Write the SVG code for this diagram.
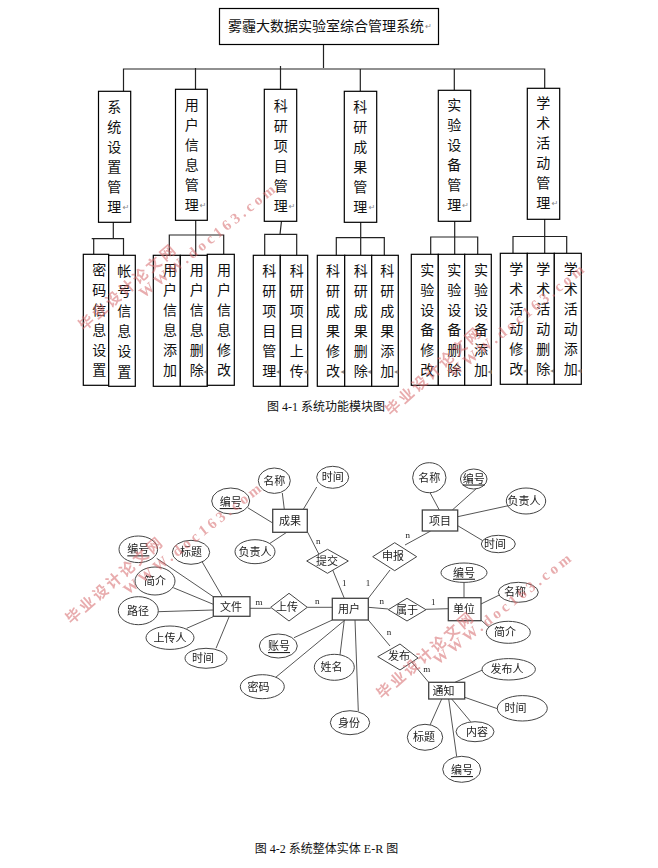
<svg xmlns="http://www.w3.org/2000/svg" width="658" height="868" viewBox="0 0 658 868">
<style>
text{font-family:"Liberation Serif","Noto Sans CJK SC",serif;fill:#111;text-anchor:middle;dominant-baseline:central}
.b rect,.e rect,.e ellipse,.e polygon{fill:#fff}
.b rect{stroke:#000;stroke-width:1.2}
.b text{font-size:14px}
.b .r{font-family:"DejaVu Sans",sans-serif;font-size:8px;fill:#888}
#c1 path{fill:none;stroke:#222;stroke-width:1.2}
#er rect,#er ellipse,#er polygon{stroke:#444;stroke-width:1}
#er rect{stroke-width:1.3}
#er text{font-size:11px;fill:#222}
#er .l{font-size:9px}
#er .u{text-decoration:underline}
#c2 path{fill:none;stroke:#555;stroke-width:1}
.cap{font-size:12px}
#wm text{fill:#d66a6c;opacity:.55;font-weight:bold;font-size:15px}
</style>
<defs><filter id="bl" x="-5%" y="-5%" width="110%" height="110%"><feGaussianBlur stdDeviation="0.35"/></filter></defs>

<g id="c1">
<path d="M323.5 44V68M123.5 91V69H544.7V88M195.5 68V90M280.5 66V89M360.3 69V91M454.3 69V90"/>
<path d="M113.3 222V239M91.7 238.7H123.5V255M93.7 238.7V254"/>
<path d="M195.7 220V255M169.3 255V235H223.7V254"/>
<path d="M281.5 221L280 234.3M264.7 255V234.3H296.7V255"/>
<path d="M360.7 222V255M336.3 255V237.7H384.3V255"/>
<path d="M454.7 221V254M430.7 254V237H477.7V254"/>
<path d="M544.7 219V253M513 253V236.5H566.7V253"/>
</g>

<g class="b">
<g id="root"><rect x="219.5" y="8.5" width="219" height="36"/><text x="326" y="26">雾霾大数据实验室综合管理系统</text><text class="r" x="428.5" y="26">↵</text></g>
<g id="m1"><rect x="98.5" y="91.3" width="32.2" height="131"/><text x="114.3 114.3 114.3 114.3 114.3 114.3" y="107 127 147 167 187 207">系统设置管理</text><text class="r" x="126" y="207">↵</text></g>
<g id="m2"><rect x="175.5" y="89.3" width="31.8" height="131"/><text x="191.7 191.7 191.7 191.7 191.7 191.7" y="105.3 125.3 145.3 165.3 185.3 205.3">用户信息管理</text><text class="r" x="203" y="205.3">↵</text></g>
<g id="m3"><rect x="264.3" y="89.3" width="32.4" height="132"/><text x="280.7 280.7 280.7 280.7 280.7 280.7" y="106 126 146 166 186 206">科研项目管理</text><text class="r" x="292" y="206">↵</text></g>
<g id="m4"><rect x="344.3" y="91.3" width="32.4" height="131"/><text x="360.3 360.3 360.3 360.3 360.3 360.3" y="107 127 147 167 187 207">科研成果管理</text><text class="r" x="372" y="207">↵</text></g>
<g id="m5"><rect x="438.3" y="90.3" width="32.4" height="131"/><text x="454.3 454.3 454.3 454.3 454.3 454.3" y="105.3 125.3 145.3 165.3 185.3 205.3">实验设备管理</text><text class="r" x="465.5" y="205.3">↵</text></g>
<g id="m6"><rect x="527.3" y="88.3" width="32.4" height="131"/><text x="543.3 543.3 543.3 543.3 543.3 543.3" y="103.3 123.3 143.3 163.3 183.3 203.3">学术活动管理</text><text class="r" x="555" y="203.3">↵</text></g>

<g id="s11"><rect x="83.3" y="254.3" width="25.4" height="131"/><text x="99.3 99.3 99.3 99.3 99.3 99.3" y="270 290 310 330 350 370">密码信息设置</text></g>
<g id="s12"><rect x="108.7" y="255.3" width="26.6" height="131"/><text x="124.3 124.3 124.3 124.3 124.3 124.3" y="271 291 311 331 351 372">帐号信息设置</text></g>
<g id="s21"><rect x="153.3" y="255.3" width="27" height="131"/><text x="170 170 170 170 170 170" y="270.5 290.5 310.5 330.5 350.5 370.5">用户信息添加</text></g>
<g id="s22"><rect x="180.3" y="255.3" width="27" height="131"/><text x="196.7 196.7 196.7 196.7 196.7 196.7" y="270.5 290.5 310.5 330.5 350.5 370.5">用户信息删除</text><text class="r" x="205.3" y="371.5">◂</text></g>
<g id="s23"><rect x="207.3" y="254.3" width="27" height="131"/><text x="224 224 224 224 224 224" y="270 290 310 330 350 370">用户信息修改</text></g>
<g id="s31"><rect x="253.3" y="255.3" width="27" height="131"/><text x="269.3 269.3 269.3 269.3 269.3 269.3" y="271 291 311 331 351 371">科研项目管理</text><text class="r" x="278" y="371.5">◂</text></g>
<g id="s32"><rect x="280.3" y="255.3" width="27.4" height="131"/><text x="296.7 296.7 296.7 296.7 296.7 296.7" y="271 291 311 331 351 371">科研项目上传</text><text class="r" x="305.5" y="371.5">◂</text></g>
<g id="s41"><rect x="317.3" y="255.3" width="27.4" height="131"/><text x="333 333 333 333 333 333" y="271 291 311 331 351 371">科研成果修改</text><text class="r" x="342.5" y="371.5">◂</text></g>
<g id="s42"><rect x="344.7" y="255.3" width="27" height="131"/><text x="360.7 360.7 360.7 360.7 360.7 360.7" y="271 291 311 331 351 371">科研成果删除</text><text class="r" x="369.3" y="371.5">◂</text></g>
<g id="s43"><rect x="371.7" y="255.3" width="26.6" height="131"/><text x="387.3 387.3 387.3 387.3 387.3 387.3" y="271 291 311 331 351 371">科研成果添加</text><text class="r" x="396" y="371.5">◂</text></g>
<g id="s51"><rect x="411.3" y="254.3" width="27" height="131"/><text x="427.3 427.3 427.3 427.3 427.3 427.3" y="270 290 310 330 350 370">实验设备修改</text></g>
<g id="s52"><rect x="438.3" y="254.3" width="26.4" height="131"/><text x="454.3 454.3 454.3 454.3 454.3 454.3" y="270 290 310 330 350 370">实验设备删除</text></g>
<g id="s53"><rect x="464.7" y="254.3" width="26.6" height="131"/><text x="481 481 481 481 481 481" y="270 290 310 330 350 370">实验设备添加</text><text class="r" x="489.5" y="371">◂</text></g>
<g id="s61"><rect x="500.3" y="253.3" width="27" height="131"/><text x="516.3 516.3 516.3 516.3 516.3 516.3" y="269 289 309 329 349 369">学术活动修改</text><text class="r" x="525.3" y="370">◂</text></g>
<g id="s62"><rect x="527.3" y="253.3" width="27" height="131"/><text x="543.3 543.3 543.3 543.3 543.3 543.3" y="269 289 309 329 349 369">学术活动删除</text><text class="r" x="552.3" y="370">◂</text></g>
<g id="s63"><rect x="554.3" y="253.3" width="27" height="131"/><text x="570.7 570.7 570.7 570.7 570.7 570.7" y="269 289 309 329 349 369">学术活动添加</text><text class="r" x="579.2" y="370">◂</text></g>
</g>
<text class="cap" x="326" y="407">图 4-1 系统功能模块图</text>

<g id="er" filter="url(#bl)">
<g id="c2">
<path d="M282.3 493L284.3 509.3M316.7 487L303.3 509.3M247.7 507.7L272.7 523M270 543.3L286.7 532.3M307.7 532.3L319.3 555M332.7 570L344.3 598.3"/>
<path d="M405 545L430.7 531M368.3 598.3L390 570M430 492.7L439.3 510M476.7 488.3L452.3 510M508.3 505.7L457.7 516.7M483.3 541L457.7 525.7"/>
<path d="M368.3 607.3L388.3 609M426 609.3L448.3 608.7M464 582.3V597.7M481 604L499.3 595M481 620L490 628.3M368.3 620L390 646M411.7 662L428.7 682.3"/>
<path d="M484 669.3L455 682.3M498.3 709L464.7 697.3M470.7 721.7L451.7 699M429.3 726.7L441.7 699M456.7 756.7L448.7 699"/>
<path d="M294 637.7L332.3 620M273.3 679.3L345 620M340 655L344.3 620M358.3 711L355 620"/>
<path d="M156.7 558.3L213.3 596.7M201.7 561L223.3 598.3M173.3 587.7L213.3 604.3M158.3 611.7L213.3 610M186.7 628.3L213.3 616.7M216 648.3L229.3 616.3M250 608.3H270.7M307.3 607.3H332.3"/>
</g>
<g class="e">
<g id="chengguo"><rect x="272.7" y="509.3" width="34.6" height="23"/><text x="290" y="521">成果</text></g>
<g id="wenjian"><rect x="213.3" y="596.7" width="36.7" height="19.6"/><text x="231" y="606.5">文件</text></g>
<g id="yonghu"><rect x="332.3" y="598.3" width="36" height="21.7"/><text x="349" y="609">用户</text></g>
<g id="xiangmu"><rect x="422.3" y="510" width="35.4" height="21"/><text x="440" y="520.5">项目</text></g>
<g id="danwei"><rect x="448.3" y="597.7" width="32.7" height="23"/><text x="464" y="609">单位</text></g>
<g id="tongzhi"><rect x="428.7" y="682.3" width="36" height="16.7"/><text x="443.5" y="690.5">通知</text></g>

<g id="shangchuan"><polygon points="270.7,607.3 289,593.3 307.3,607.3 289,621"/><text x="287" y="607">上传</text></g>
<g id="tijiao"><polygon points="306.7,561 327.5,549.3 348.3,561 327.5,573.3"/><text x="327" y="561">提交</text></g>
<g id="shenbao"><polygon points="372.7,556.7 394.7,542.7 416.7,556.7 394.7,570.7"/><text x="393" y="556">申报</text></g>
<g id="shuyu"><polygon points="388.3,609.7 407,598.3 426,609.7 407,621"/><text x="407" y="610">属于</text></g>
<g id="fabu"><polygon points="377.7,656.7 400,644 418,658 400,670"/><text x="399" y="656">发布</text></g>

<g id="a1"><ellipse cx="274.3" cy="480.7" rx="16" ry="12.7"/><text x="274.3" y="480.7">名称</text></g>
<g id="a2"><ellipse cx="332.7" cy="477.3" rx="16" ry="11"/><text x="332.7" y="477.3">时间</text></g>
<g id="a3"><ellipse cx="230.7" cy="501" rx="19" ry="13"/><text class="u" x="230.7" y="502">编号</text></g>
<g id="a4"><ellipse cx="255" cy="551.7" rx="20" ry="12"/><text x="255" y="551.7">负责人</text></g>
<g id="a5"><ellipse cx="138.3" cy="549.3" rx="19.3" ry="13.3"/><text class="u" x="138.3" y="549.3">编号</text></g>
<g id="a6"><ellipse cx="191" cy="552.3" rx="18.7" ry="12"/><text x="191" y="552.3">标题</text></g>
<g id="a7"><ellipse cx="155" cy="581" rx="20" ry="14"/><text x="155" y="581">简介</text></g>
<g id="a8"><ellipse cx="138.3" cy="610.7" rx="20" ry="14"/><text x="138" y="610.7">路径</text></g>
<g id="a9"><ellipse cx="170" cy="637.7" rx="24" ry="11.7"/><text x="170" y="637.7">上传人</text></g>
<g id="a10"><ellipse cx="206" cy="658.3" rx="21" ry="10"/><text x="203" y="658.3">时间</text></g>
<g id="a11"><ellipse cx="278.3" cy="646" rx="19" ry="12"/><text class="u" x="279" y="646">账号</text></g>
<g id="a12"><ellipse cx="334.3" cy="667.3" rx="20" ry="13"/><text x="331.5" y="667.3">姓名</text></g>
<g id="a13"><ellipse cx="262.3" cy="686.7" rx="22" ry="12"/><text x="258.5" y="686.7">密码</text></g>
<g id="a14"><ellipse cx="350" cy="722.7" rx="19.7" ry="12"/><text x="349" y="722.7">身份</text></g>
<g id="a15"><ellipse cx="508.7" cy="669.3" rx="26.7" ry="10.7"/><text x="507" y="669.3">发布人</text></g>
<g id="a16"><ellipse cx="522.3" cy="708.3" rx="25" ry="12.7"/><text x="515.5" y="708">时间</text></g>
<g id="a17"><ellipse cx="475" cy="731.7" rx="19" ry="10"/><text x="477" y="731.7">内容</text></g>
<g id="a18"><ellipse cx="425" cy="737.3" rx="17.7" ry="13"/><text x="424" y="737">标题</text></g>
<g id="a19"><ellipse cx="461.7" cy="769.3" rx="19" ry="13"/><text class="u" x="462" y="770">编号</text></g>
<g id="a20"><ellipse cx="429.3" cy="477.7" rx="16.7" ry="15"/><text x="429.3" y="477.7">名称</text></g>
<g id="a21"><ellipse cx="473.7" cy="479" rx="13.3" ry="10"/><text class="u" x="473.7" y="478.5">编号</text></g>
<g id="a22"><ellipse cx="526" cy="501" rx="19.7" ry="13"/><text x="524" y="501">负责人</text></g>
<g id="a23"><ellipse cx="498.3" cy="544" rx="17" ry="8.7"/><text x="495" y="544">时间</text></g>
<g id="a24"><ellipse cx="464" cy="572.7" rx="23" ry="9.7"/><text class="u" x="464" y="572.7">编号</text></g>
<g id="a25"><ellipse cx="518.3" cy="592.3" rx="20" ry="10"/><text x="515" y="592.3">名称</text></g>
<g id="a26"><ellipse cx="508.3" cy="632.3" rx="22" ry="11"/><text x="505" y="632.3">简介</text></g>
</g>
<g font-family="Liberation Mono">
<text class="l" x="318.3" y="541">n</text><text class="l" x="344.3" y="583.3">1</text><text class="l" x="259" y="601.7">m</text><text class="l" x="317.3" y="600.7">n</text>
<text class="l" x="407.7" y="535">n</text><text class="l" x="368" y="582.7">1</text><text class="l" x="381.7" y="600.7">n</text><text class="l" x="433.3" y="601.7">1</text><text class="l" x="389" y="632.3">n</text><text class="l" x="426.7" y="669.3">m</text>
</g>
</g>
<text class="cap" x="326.5" y="849">图 4-2 系统整体实体 E-R 图</text>

<g id="wm">
<text transform="translate(127 288) rotate(-40.6)" textLength="122">毕业设计论文网</text>
<text transform="translate(207 241) rotate(-39)" textLength="170">WWW.doc163.com</text>
<text transform="translate(433 372) rotate(-42)" textLength="122">毕业设计论文网</text>
<text transform="translate(516 321) rotate(-39)" textLength="170">WWW.doc163.com</text>
<text transform="translate(114 581) rotate(-41)" textLength="122">毕业设计论文网</text>
<text transform="translate(192 539) rotate(-38)" textLength="170">WWW.doc163.com</text>
<text transform="translate(425 656) rotate(-41)" textLength="122">毕业设计论文网</text>
<text transform="translate(502 609) rotate(-38)" textLength="170">WWW.doc163.com</text>
</g>
</svg>
